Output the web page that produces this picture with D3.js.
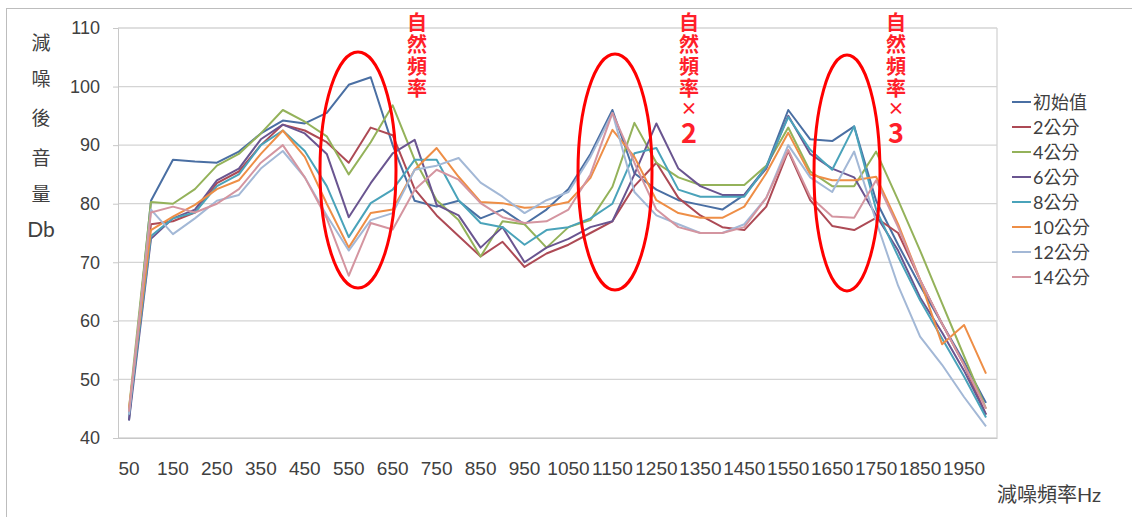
<!DOCTYPE html>
<html lang="zh-Hant">
<head>
<meta charset="UTF-8">
<title>減噪頻率</title>
<script src="https://d3js.org/d3.v7.min.js"></script>
<style>
  body { margin: 0; background: #fff; }
  svg { font-family: Lato, "Noto Sans CJK TC", sans-serif; }
</style>
</head>
<body>
<svg></svg>
<script>
// categories (Hz)
const freqs = [50, 100, 150, 200, 250, 300, 350, 400, 450, 500,
  550, 600, 650, 700, 750, 800, 850, 900, 950, 1000,
  1050, 1100, 1150, 1200, 1250, 1300, 1350, 1400, 1450, 1500,
  1550, 1600, 1650, 1700, 1750, 1800, 1850, 1900, 1950, 2000];
const shownTicks = [50, 150, 250, 350, 450, 550, 650, 750, 850, 950,
  1050, 1150, 1250, 1350, 1450, 1550, 1650, 1750, 1850, 1950];
const yTicks = [40, 50, 60, 70, 80, 90, 100, 110];

const seriesNames = ['初始值', '2公分', '4公分', '6公分', '8公分', '10公分', '12公分', '14公分'];
const seriesColors = ['#4a6fa3', '#ad4a55', '#94b25a', '#6a5590', '#4aa3ba', '#ee8e46', '#a3b8d6', '#d495a0'];

const init = [43, 80.5, 87.5, 87.2, 87, 88.9, 92, 94.2, 93.7, 95.5,
  100.3, 101.6, 90, 80.5, 79.5, 80.5, 77.5, 79, 76.5, 79,
  82.5, 88.5, 96, 85.2, 82.4, 80.6, 79.8, 79, 81.5, 86.3,
  96, 91, 90.7, 93.2, 80.5, 73, 66, 59.5, 53, 46];
const cm2 = [44, 76.5, 77, 78.5, 83.5, 85.5, 90, 93.5, 92.5, 90.5,
  87, 93, 91.7, 82.5, 78, 74.5, 71, 73.5, 69.2, 71.5,
  73, 75, 77, 83, 87, 81, 78, 76, 75.5, 79.5,
  89, 80.6, 76.2, 75.5, 77.6, 75, 67, 59.5, 52.5, 44];
const cm4 = [45, 80.3, 80, 82.5, 86.5, 88.5, 92, 96, 94, 91.5,
  85, 90.5, 96.8, 87.5, 80.6, 77.2, 71, 77, 76.5, 72.5,
  76, 77.2, 82.9, 93.8, 87, 84.5, 83.2, 83.2, 83.2, 86.5,
  93, 85.5, 83, 83, 88.9, 80.6, 72, 63, 54, 45];
const cm6 = [43, 74, 77.5, 79, 84, 86, 91, 93.5, 92, 88.5,
  77.7, 83.5, 88.6, 90.9, 79.8, 78, 72.5, 76, 70, 72.5,
  74, 76, 77, 85, 93.7, 86, 83, 81.5, 81.5, 86,
  95, 88.5, 86, 84.5, 78, 72, 64, 58, 51.5, 44];
const cm8 = [44, 74.5, 77.5, 78.5, 83, 85, 90, 92.5, 89, 83,
  74.3, 80.1, 82.4, 87.5, 87.5, 80.6, 76.7, 76, 73, 75.5,
  76, 77.5, 80, 88.6, 89.5, 82.4, 81.2, 81.2, 81.2, 86.3,
  94.8, 89.2, 85.8, 93.2, 79, 71, 63.5, 57, 50.5, 43.5];
const cm10 = [45, 75.5, 77.8, 79.8, 82.5, 84, 88.5, 92.5, 88, 80,
  72.5, 78.4, 79, 85.8, 89.5, 84.6, 80.3, 80.1, 79.3, 79.5,
  80.3, 84.4, 92.6, 88, 80.6, 78.4, 77.6, 77.6, 79.5, 85.2,
  92.1, 85, 84, 84, 84.6, 76.5, 67, 56, 59.3, 51];
const cm12 = [44, 79, 74.8, 77.5, 80.5, 81.5, 86, 89, 84.5, 78,
  72, 77.2, 78.4, 85.8, 86.5, 87.8, 83.6, 81.2, 78.4, 80.6,
  82, 88, 95.5, 82, 78, 76.5, 75, 75, 76.5, 81,
  90, 84.5, 82, 88.9, 77, 66, 57.3, 52.5, 47, 42];
const cm14 = [44.5, 78.5, 79.5, 78.5, 80, 82.5, 87, 90, 84.5, 77.5,
  67.7, 76.7, 75.6, 82.4, 85.8, 84.1, 80.1, 77.7, 76.7, 77,
  79, 85, 95.5, 87, 79, 76, 75, 75, 76, 81,
  89.2, 81.2, 77.8, 77.6, 84, 76, 67, 59.5, 52.5, 45];

const allSeries = [init, cm2, cm4, cm6, cm8, cm10, cm12, cm14];

const svg = d3.select('svg').attr('width', 1132).attr('height', 517);

// outer chart border
svg.append('rect')
  .attr('x', 6.5).attr('y', 8.5).attr('width', 1140).attr('height', 530)
  .attr('fill', 'none').attr('stroke', '#bdbdbd');

const plotLeft = 118, plotRight = 997, plotTop = 28, plotBottom = 438;

const x = d3.scaleBand().domain(freqs).range([plotLeft, plotRight]);
const y = d3.scaleLinear().domain([40, 110]).range([plotBottom, plotTop]);

// gridlines
svg.append('g').selectAll('line')
  .data(yTicks)
  .enter().append('line')
  .attr('x1', plotLeft).attr('x2', plotRight)
  .attr('y1', d => y(d)).attr('y2', d => y(d))
  .attr('stroke', '#d4d4d4').attr('stroke-width', 1.3);

// plot right border
svg.append('line')
  .attr('x1', plotRight).attr('x2', plotRight).attr('y1', plotTop).attr('y2', plotBottom)
  .attr('stroke', '#d4d4d4').attr('stroke-width', 1.3);

const yAxis = svg.append('g')
  .attr('transform', `translate(${plotLeft},0)`)
  .call(d3.axisLeft(y).tickValues(yTicks).tickSize(5).tickPadding(13));
yAxis.select('.domain').attr('stroke', '#c8c8c8');
yAxis.selectAll('.tick line').attr('stroke', '#c8c8c8');
yAxis.selectAll('text').style('font-size', '18px').attr('fill', '#404040');

const xAxis = svg.append('g')
  .attr('transform', `translate(0,${plotBottom})`)
  .call(d3.axisBottom(x).tickValues(shownTicks).tickSize(0).tickPadding(24));
xAxis.select('.domain').attr('stroke', '#c8c8c8');
xAxis.selectAll('text').style('font-size', '19px').attr('fill', '#404040');

const line = d3.line()
  .x((d, i) => x(freqs[i]) + x.bandwidth() / 2)
  .y(d => y(d));

svg.append('g').selectAll('path')
  .data(allSeries)
  .enter().append('path')
  .attr('d', line)
  .attr('fill', 'none')
  .attr('stroke', (d, i) => seriesColors[i])
  .attr('stroke-width', 2)
  .attr('stroke-linejoin', 'round');

// y title, stacked vertically
const yTitle = ['減', '噪', '後', '音', '量', 'Db'];
const yTitlePos = [42, 78, 117, 157, 193, 228];
svg.append('g').selectAll('text')
  .data(yTitle)
  .enter().append('text')
  .attr('x', 41)
  .attr('y', (d, i) => yTitlePos[i])
  .attr('text-anchor', 'middle')
  .attr('dominant-baseline', 'central')
  .style('font-size', (d, i) => i === 5 ? '21px' : '19px')
  .attr('fill', '#404040')
  .text(d => d);

svg.append('text')
  .attr('x', 997).attr('y', 502)
  .style('font-size', '20px')
  .attr('fill', '#404040')
  .text('減噪頻率Hz');

// legend
const legend = svg.append('g').selectAll('g')
  .data(seriesNames)
  .enter().append('g')
  .attr('transform', (d, i) => `translate(1012,${102 + i * 25})`);
legend.append('line')
  .attr('x1', 0).attr('x2', 19)
  .attr('stroke', (d, i) => seriesColors[i]).attr('stroke-width', 2);
legend.append('text')
  .attr('x', 21)
  .attr('dominant-baseline', 'central')
  .style('font-size', '18px')
  .attr('fill', '#404040')
  .text(d => d);

// natural frequency marks
const ellipses = [
  { cx: 358, cy: 170, rx: 38, ry: 118 },
  { cx: 615, cy: 172, rx: 37, ry: 118 },
  { cx: 847, cy: 173, rx: 33, ry: 118 }
];
svg.append('g').selectAll('ellipse')
  .data(ellipses)
  .enter().append('ellipse')
  .attr('cx', d => d.cx).attr('cy', d => d.cy)
  .attr('rx', d => d.rx).attr('ry', d => d.ry)
  .attr('fill', 'none').attr('stroke', '#ff0000').attr('stroke-width', 3);

// vertical red notes, one text element per column
const notes = [
  { x: 417, main: '自然頻率', mult: '', num: '' },
  { x: 689, main: '自然頻率', mult: '×', num: '2' },
  { x: 896, main: '自然頻率', mult: '×', num: '3' }
];
notes.forEach(n => {
  const t = svg.append('text')
    .attr('x', n.x)
    .attr('y', 12)
    .style('writing-mode', 'vertical-rl')
    .style('text-orientation', 'upright')
    .style('letter-spacing', '2px')
    .style('font-family', '"Noto Sans CJK TC", sans-serif')
    .style('font-weight', 'bold')
    .style('font-size', '20px')
    .attr('fill', '#ff1f2a');
  t.append('tspan').text(n.main);
  if (n.mult) {
    t.append('tspan').style('font-size', '17px').text(n.mult);
    t.append('tspan').style('font-size', '27px').text(n.num);
  }
});
</script>
</body>
</html>
